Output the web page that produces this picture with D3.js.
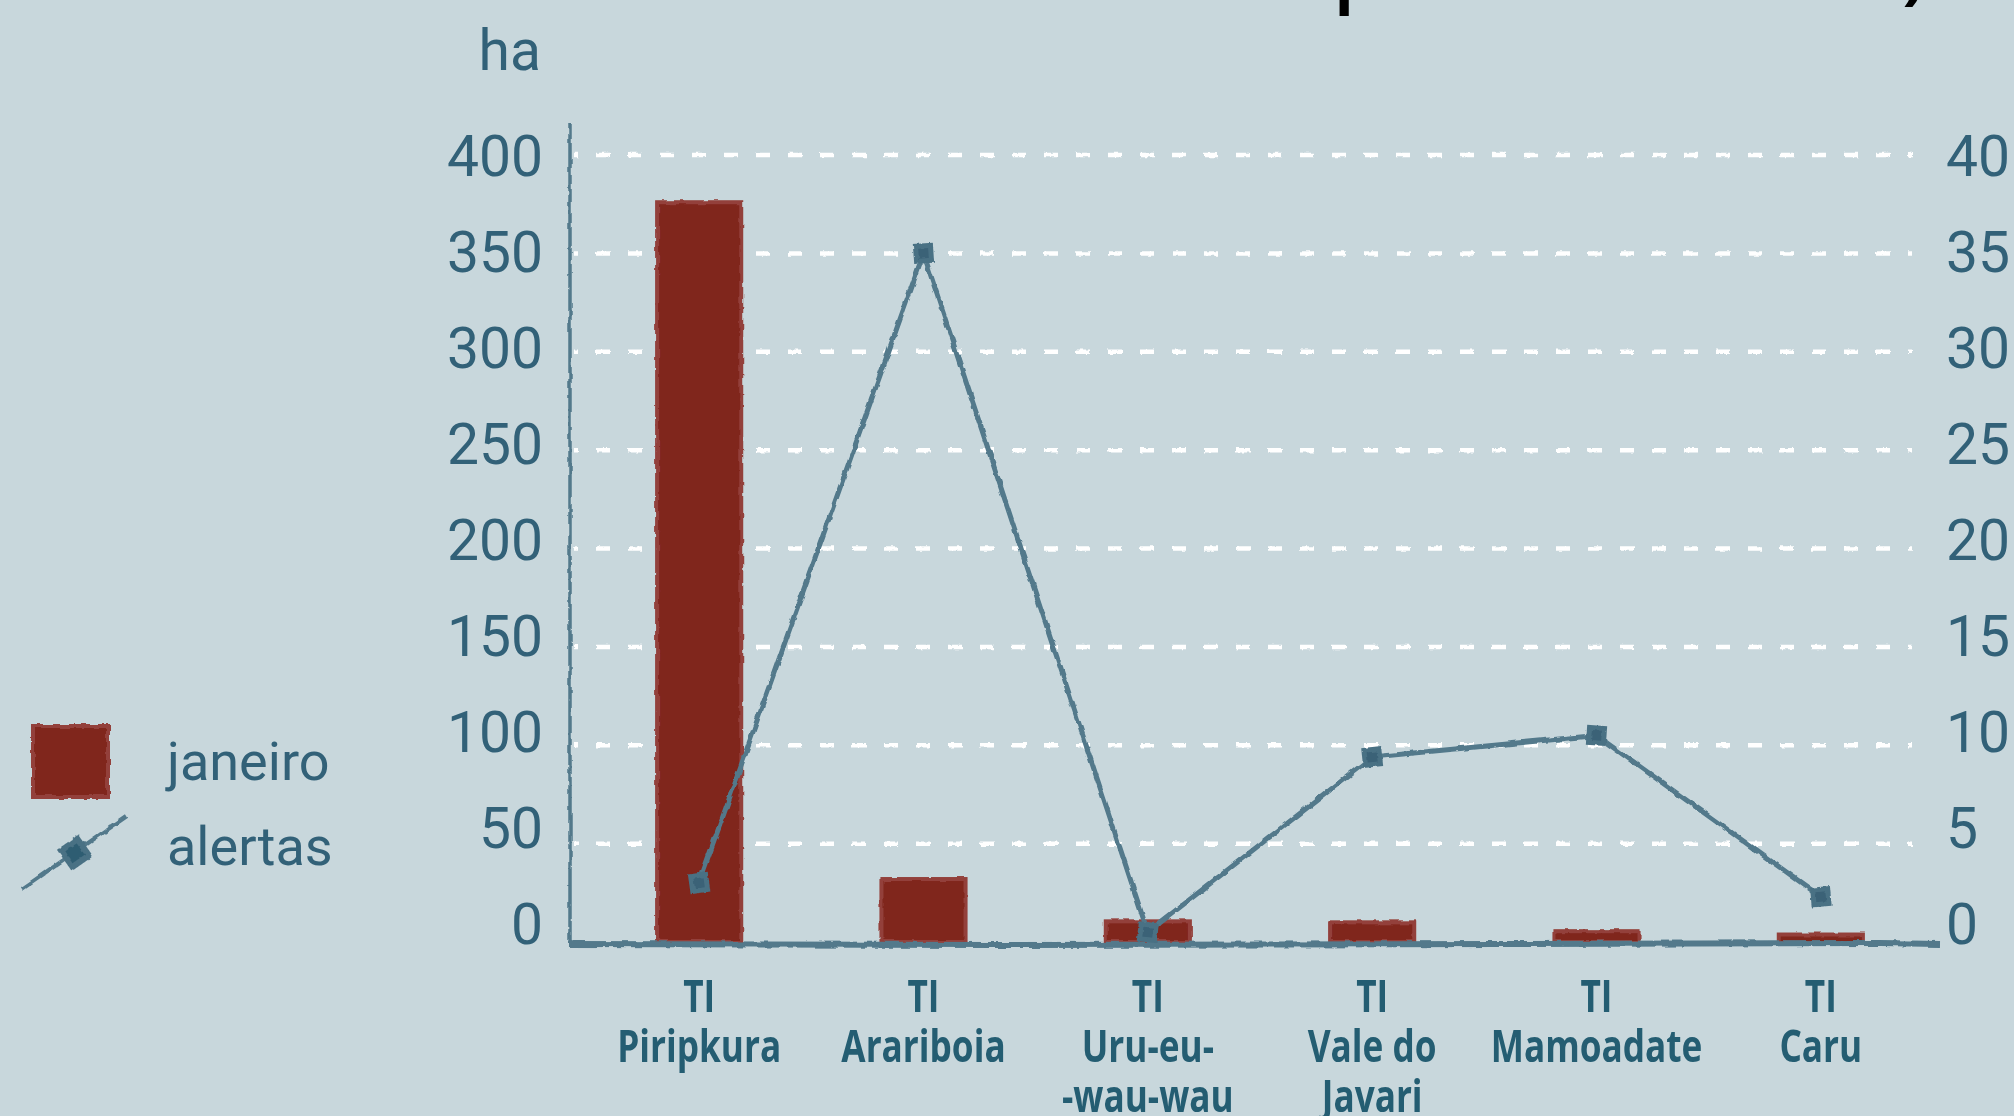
<!DOCTYPE html>
<html>
<head>
<meta charset="utf-8">
<script src="https://cdn.jsdelivr.net/npm/d3@7"></script>
<style>
  html, body { margin: 0; padding: 0; background: #c8d7dc; }
  svg { display: block; }
</style>
</head>
<body>
<div id="chart"></div>
<script>
// data
const categories = ['TI Piripkura', 'TI Arariboia', 'TI Uru-eu-wau-wau', 'TI Vale do Javari', 'TI Mamoadate', 'TI Caru'];
const catLines = [['TI', 'Piripkura'], ['TI', 'Arariboia'], ['TI', 'Uru-eu-', '-wau-wau'], ['TI', 'Vale do', 'Javari'], ['TI', 'Mamoadate'], ['TI', 'Caru']];
const janeiro = [376, 32, 10.5, 10, 5.5, 3.8];   // ha
const alertas = [3, 35, 0.5, 9.4, 10.5, 2.3];
const leftTicks = [0, 50, 100, 150, 200, 250, 300, 350, 400];
const rightTicks = [0, 5, 10, 15, 20, 25, 30, 35, 40];

const width = 2014, height = 1116;
const barColor = '#80251f', barEdge = '#93403a', lineColor = '#52798b',
      markColor = '#4a7184', textColor = '#326178', labelColor = '#245d72';

const svg = d3.select('#chart').append('svg')
  .attr('width', width).attr('height', height);
svg.append('rect').attr('width', width).attr('height', height).attr('fill', '#c8d7dc');

// hand drawn look
const defs = svg.append('defs');
function roughFilter(id, freq, scale, seed) {
  const f = defs.append('filter').attr('id', id)
    .attr('x', '-5%').attr('y', '-5%').attr('width', '110%').attr('height', '110%');
  f.append('feTurbulence').attr('type', 'fractalNoise').attr('baseFrequency', freq)
    .attr('numOctaves', 2).attr('seed', seed).attr('result', 'n');
  f.append('feDisplacementMap').attr('in', 'SourceGraphic').attr('in2', 'n')
    .attr('scale', scale).attr('xChannelSelector', 'R').attr('yChannelSelector', 'G');
}
roughFilter('rough', 0.09, 4, 2);
roughFilter('roughS', 0.2, 3, 5);

const x = d3.scaleBand().domain(categories).range([587, 1933])
  .paddingInner(0.625).paddingOuter(0.3125);
const yL = d3.scaleLinear().domain([0, 400]).range([942, 155]);
const yR = d3.scaleLinear().domain([0, 40]).range([942, 155]);
// tick labels sit on a slightly tighter spacing than the gridlines
const yLab = d3.scaleLinear().domain([0, 400]).range([923, 155]);
const yRab = d3.scaleLinear().domain([0, 40]).range([923, 155]);
const cx = d => x(d) + x.bandwidth() / 2;

// title, only its lower edge is inside the picture
svg.append('text').attr('x', 1333).attr('y', -3)
  .attr('font-family', 'Open Sans').attr('font-weight', 600).attr('font-size', 80)
  .attr('fill', '#000').text('p');
svg.append('text').attr('x', 1902).attr('y', -6)
  .attr('font-family', 'Open Sans').attr('font-weight', 600).attr('font-size', 80)
  .attr('fill', '#000').text(')');

// gridlines
svg.append('g').attr('filter', 'url(#roughS)')
  .selectAll('line').data(leftTicks.filter(d => d > 0)).join('line')
  .attr('x1', 574).attr('x2', 1912)
  .attr('y1', d => yL(d)).attr('y2', d => yL(d))
  .attr('stroke', '#fff').attr('stroke-width', 4.5)
  .attr('stroke-dasharray', '14 18').attr('stroke-dashoffset', 10);

// left axis
const axL = svg.append('g').attr('transform', 'translate(543,0)')
  .call(d3.axisLeft(yLab).tickValues(leftTicks).tickSize(0).tickPadding(0));
axL.select('.domain').remove();
axL.selectAll('text').attr('font-family', 'Roboto').attr('font-size', 57)
  .attr('fill', textColor).attr('dy', '0.36em');

// right axis
const axR = svg.append('g').attr('transform', 'translate(1946,0)')
  .call(d3.axisRight(yRab).tickValues(rightTicks).tickSize(0).tickPadding(0));
axR.select('.domain').remove();
axR.selectAll('text').attr('font-family', 'Roboto').attr('font-size', 57)
  .attr('fill', textColor).attr('dy', '0.36em');

svg.append('text').attr('x', 541).attr('y', 70).attr('text-anchor', 'end')
  .attr('font-family', 'Roboto').attr('font-size', 57).attr('fill', textColor).text('ha');

// bars
svg.append('g').attr('filter', 'url(#rough)')
  .selectAll('rect').data(categories).join('rect')
  .attr('x', d => x(d)).attr('width', x.bandwidth())
  .attr('y', (d, i) => yL(janeiro[i]))
  .attr('height', (d, i) => yL(0) - yL(janeiro[i]))
  .attr('fill', barColor).attr('stroke', barEdge).attr('stroke-width', 4);

// axis lines
const axes = svg.append('g').attr('filter', 'url(#rough)').attr('stroke', lineColor).attr('fill', 'none');
axes.append('line').attr('x1', 570).attr('x2', 570).attr('y1', 124).attr('y2', 944).attr('stroke-width', 3.5);
axes.append('path')
  .attr('d', d3.line()([[568, 944], [1000, 945], [1500, 944], [1880, 943], [1940, 944]]))
  .attr('stroke-width', 6);

// alertas line
const pts = categories.map((d, i) => [cx(d), yR(alertas[i])]);
svg.append('path').datum(pts).attr('filter', 'url(#rough)')
  .attr('d', d3.line())
  .attr('fill', 'none').attr('stroke', lineColor).attr('stroke-width', 5)
  .attr('stroke-linejoin', 'round');
const mk = svg.append('g').attr('filter', 'url(#roughS)')
  .selectAll('g').data(pts).join('g')
  .attr('transform', (d, i) => `translate(${d[0]},${d[1]}) rotate(${[-8, -4, 6, -6, 4, -5][i]})`);
mk.append('rect').attr('x', -10).attr('y', -10).attr('width', 20).attr('height', 20).attr('fill', markColor);
mk.append('rect').attr('x', -5).attr('y', -5).attr('width', 10).attr('height', 10).attr('fill', '#3a6277');

// category labels
const cat = svg.append('g').selectAll('g').data(categories).join('g')
  .attr('transform', d => `translate(${cx(d)},0) scale(0.8,1)`);
cat.selectAll('text').data((d, i) => catLines[i]).join('text')
  .attr('x', 0).attr('y', (d, j) => 1012 + j * 50)
  .attr('text-anchor', 'middle')
  .attr('font-family', 'Open Sans').attr('font-weight', 700).attr('font-size', 44)
  .attr('fill', labelColor).text(d => d);

// legend
const leg = svg.append('g');
leg.append('rect').attr('x', 33).attr('y', 726).attr('width', 75).attr('height', 71)
  .attr('filter', 'url(#rough)')
  .attr('fill', barColor).attr('stroke', barEdge).attr('stroke-width', 4);
leg.append('line').attr('filter', 'url(#rough)')
  .attr('x1', 22).attr('y1', 889).attr('x2', 127).attr('y2', 816)
  .attr('stroke', lineColor).attr('stroke-width', 4);
const lm = leg.append('g').attr('filter', 'url(#roughS)').attr('transform', 'translate(75,853) rotate(-35)');
lm.append('rect').attr('x', -13).attr('y', -13).attr('width', 26).attr('height', 26).attr('fill', markColor);
lm.append('rect').attr('x', -7).attr('y', -7).attr('width', 14).attr('height', 14).attr('fill', '#2f5d72');
leg.selectAll('text').data(['janeiro', 'alertas']).join('text')
  .attr('x', 167).attr('y', (d, i) => 780 + i * 85)
  .attr('font-family', 'Roboto').attr('font-size', 54)
  .attr('fill', textColor).text(d => d);
</script>
</body>
</html>
